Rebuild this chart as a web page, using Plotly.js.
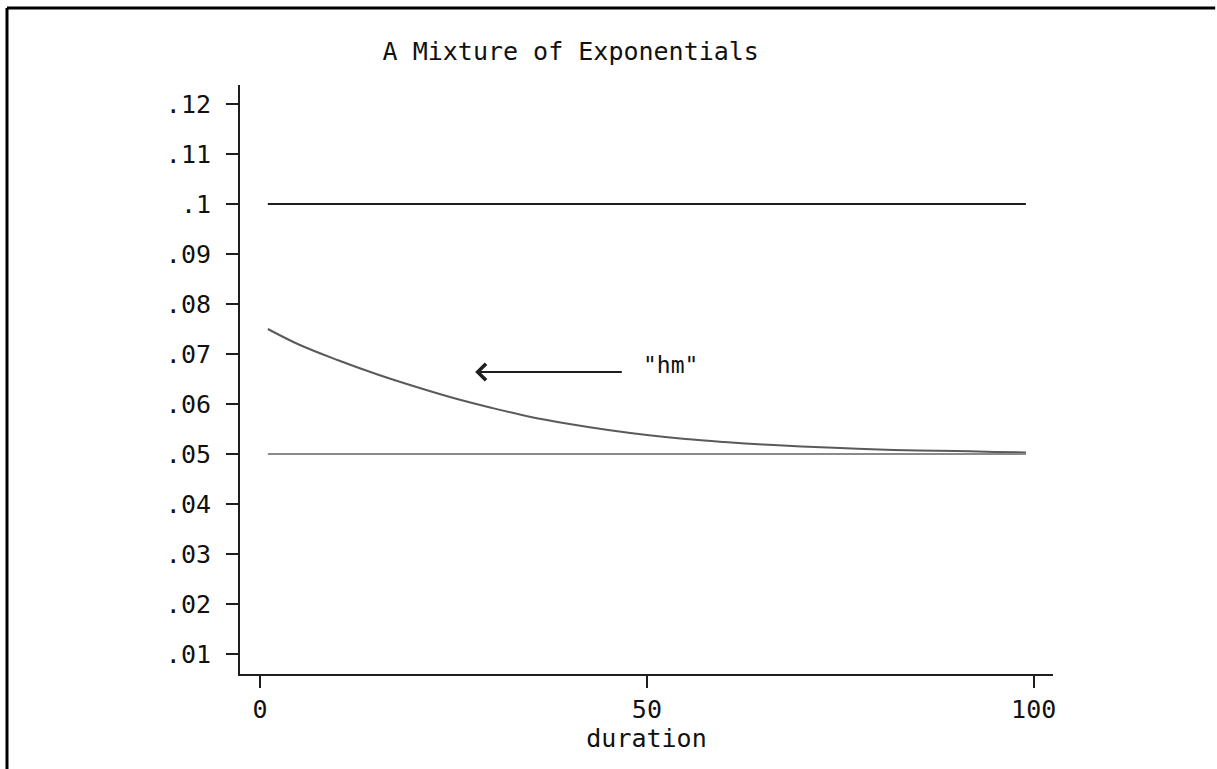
<!DOCTYPE html>
<html><head><meta charset="utf-8">
<script src="https://cdn.plot.ly/plotly-3.0.1.min.js"></script>
<style>html,body{margin:0;padding:0;background:#fff;overflow:hidden}#chart{width:1217px;height:769px}</style>
</head><body><div id="chart"></div>
<script>
// Data
const duration = [1, 5, 10, 15, 20, 25, 30, 35, 40, 45, 50, 55, 60, 65, 70, 75, 80, 85, 90, 95, 99];
const hazardMixture = [0.0750, 0.0719, 0.0688, 0.0660, 0.0635, 0.0612, 0.0592, 0.0574, 0.0560, 0.0548, 0.0538,
                       0.0530, 0.0524, 0.0519, 0.0515, 0.0512, 0.0509, 0.0507, 0.0506, 0.0504, 0.0503];
const durationEnds = [1, 99];
const hazardHigh = [0.1, 0.1];
const hazardLow = [0.05, 0.05];
const yTickVals = [0.01, 0.02, 0.03, 0.04, 0.05, 0.06, 0.07, 0.08, 0.09, 0.10, 0.11, 0.12];
const yTickText = ['.01', '.02', '.03', '.04', '.05', '.06', '.07', '.08', '.09', '.1', '.11', '.12'];
const xTickVals = [0, 50, 100];
const xTickText = ['0', '50', '100'];
const titleText = 'A Mixture of Exponentials';
const xTitle = 'duration';
const noteText = '"hm"';

const FONT = 'DejaVu Sans Mono, monospace';

const traces = [
  {x: durationEnds, y: hazardHigh, mode: 'lines', line: {color: '#1e1e1e', width: 2}, hoverinfo: 'skip'},
  {x: duration, y: hazardMixture, mode: 'lines', line: {color: '#5a5a5a', width: 2, shape: 'spline'}, hoverinfo: 'skip'},
  {x: durationEnds, y: hazardLow, mode: 'lines', line: {color: '#8a8a8a', width: 2}, hoverinfo: 'skip'}
];

const axisCommon = {
  showgrid: false, zeroline: false, showline: true, linecolor: '#1e1e1e', linewidth: 2,
  ticks: 'outside', ticklen: 12, tickwidth: 2, tickcolor: '#1e1e1e',
  tickfont: {family: FONT, size: 25, color: '#111'}, tickmode: 'array'
};

const layout = {
  width: 1217, height: 769,
  margin: {l: 240, r: 164, t: 85, b: 95},
  paper_bgcolor: '#fff', plot_bgcolor: '#fff',
  showlegend: false,
  font: {family: FONT, color: '#111'},
  title: {text: titleText, x: 0.469, xanchor: 'center', xref: 'container', y: 0.934, yanchor: 'middle', yref: 'container',
          font: {family: FONT, size: 25, color: '#111'}},
  xaxis: Object.assign({}, axisCommon, {range: [-2.6, 102.5], tickvals: xTickVals, ticktext: xTickText,
          title: {text: xTitle, standoff: 0, font: {family: FONT, size: 25, color: '#111'}}}),
  yaxis: Object.assign({}, axisCommon, {range: [0.006, 0.1238], tickvals: yTickVals, ticktext: yTickText,
          ticklabelstandoff: 10}),
  annotations: [
    {x: 27.8, y: 0.0664, xref: 'x', yref: 'y', ax: 47.4, ay: 0.0664, axref: 'x', ayref: 'y',
     text: ' ', showarrow: true, arrowhead: 4, arrowsize: 1.6, arrowwidth: 2, arrowcolor: '#1e1e1e'},
    {x: 49.3, y: 0.0664, xref: 'x', yref: 'y', text: noteText, showarrow: false, xanchor: 'left', yanchor: 'middle',
     yshift: 7, font: {family: FONT, size: 23, color: '#111'}}
  ],
  shapes: [
    {type: 'line', xref: 'paper', yref: 'paper', x0: -0.2866, x1: -0.2866, y0: -0.1613, y1: 1.1307,
     line: {color: '#000', width: 3}, layer: 'above'},
    {type: 'line', xref: 'paper', yref: 'paper', x0: -0.2866, x1: 1.1995, y0: 1.1307, y1: 1.1307,
     line: {color: '#000', width: 3}, layer: 'above'}
  ]
};

Plotly.newPlot('chart', traces, layout, {staticPlot: true, displayModeBar: false});
</script></body></html>
